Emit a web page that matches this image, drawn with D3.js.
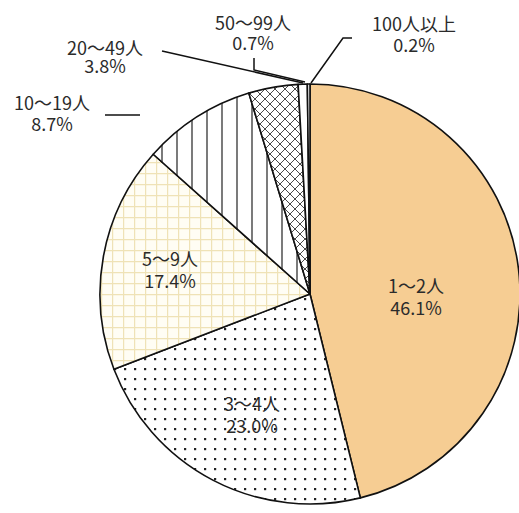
<!DOCTYPE html>
<html>
<head>
<meta charset="utf-8">
<script src="https://cdn.jsdelivr.net/npm/d3@7"></script>
<style>
  body { margin: 0; background: #fff; }
  text { font-family: "Noto Sans CJK JP", sans-serif; fill: #2b2b2b; }
</style>
</head>
<body>
<div id="chart"></div>
<script>
// data (clockwise from 12 o'clock)
var categories = ["1～2人", "3～4人", "5～9人", "10～19人", "20～49人", "50～99人", "100人以上"];
var shares = [46.1, 23.0, 17.4, 8.7, 3.8, 0.7, 0.2];
var pctLabels = ["46.1%", "23.0%", "17.4%", "8.7%", "3.8%", "0.7%", "0.2%"];

var svg_width = 519;
var svg_height = 513;
var cx = 310, cy = 294, radius = 210;

var svg = d3.select("#chart")
    .append("svg")
    .attr("width", svg_width)
    .attr("height", svg_height)

// fills / patterns
var defs = svg.append("defs")

var dots = defs.append("pattern").attr("id", "dots")
    .attr("patternUnits", "userSpaceOnUse").attr("width", 10).attr("height", 10)
dots.append("rect").attr("width", 10).attr("height", 10).attr("fill", "#fff")
dots.append("rect").attr("x", 4).attr("y", 4).attr("width", 2.2).attr("height", 2.2).attr("fill", "#222")

var grid = defs.append("pattern").attr("id", "grid")
    .attr("patternUnits", "userSpaceOnUse").attr("width", 11).attr("height", 11)
grid.append("rect").attr("width", 11).attr("height", 11).attr("fill", "#fffdf4")
grid.append("path").attr("d", "M0,0.5H11M0.5,0V11").attr("stroke", "#efe2b6").attr("stroke-width", 1.4)

var vlines = defs.append("pattern").attr("id", "vlines")
    .attr("patternUnits", "userSpaceOnUse").attr("width", 15).attr("height", 15)
vlines.append("rect").attr("width", 15).attr("height", 15).attr("fill", "#fff")
vlines.append("path").attr("d", "M2,0V15").attr("stroke", "#222").attr("stroke-width", 1.2)

var cross = defs.append("pattern").attr("id", "cross")
    .attr("patternUnits", "userSpaceOnUse").attr("width", 10).attr("height", 10)
cross.append("rect").attr("width", 10).attr("height", 10).attr("fill", "#fff")
cross.append("path").attr("d", "M0,0L10,10M10,0L0,10").attr("stroke", "#333").attr("stroke-width", 0.9)

var fills = ["#f6cd93", "url(#dots)", "url(#grid)", "url(#vlines)", "url(#cross)", "#fff", "#fff"];

var pie = d3.pie().sort(null).value(d => d)
var arc = d3.arc().innerRadius(0).outerRadius(radius)

var chart = svg.append("g")
    .attr("transform", `translate(${cx}, ${cy})`)

chart.selectAll("path.slice")
    .data(pie(shares))
    .enter()
    .append("path")
    .attr("class", "slice")
    .attr("d", arc)
    .attr("fill", (d, i) => fills[i])
    .attr("stroke", "#111")
    .attr("stroke-width", 1.6)
    .attr("stroke-linejoin", "round")

// label layout: [x, y of first line, y of second line]
var labelPos = [
    [416, 293, 315],
    [252, 411, 433],
    [170, 266, 288],
    [52, 110, 131],
    [105, 55, 73],
    [253, 30, 50],
    [414, 31, 52]
];

// leader lines for the small slices (index -> polyline)
var leaders = [
    [3, [[105, 115], [140, 115]]],
    [4, [[162, 51], [303, 83]]],
    [5, [[254, 58], [254, 70], [305, 82]]],
    [6, [[352, 38], [343, 38], [311, 83]]]
];

svg.selectAll("path.leader")
    .data(leaders)
    .enter()
    .append("path")
    .attr("class", "leader")
    .attr("d", d => d3.line()(d[1]))
    .attr("fill", "none")
    .attr("stroke", "#111")
    .attr("stroke-width", 1.5)

var labels = svg.selectAll("g.label")
    .data(categories)
    .enter()
    .append("g")
    .attr("class", "label")

labels.append("text")
    .attr("x", (d, i) => labelPos[i][0])
    .attr("y", (d, i) => labelPos[i][1])
    .attr("text-anchor", "middle")
    .style("font-size", "18px")
    .text(d => d)

labels.append("text")
    .attr("x", (d, i) => labelPos[i][0])
    .attr("y", (d, i) => labelPos[i][2])
    .attr("text-anchor", "middle")
    .style("font-size", "18px")
    .text((d, i) => pctLabels[i])
</script>
</body>
</html>
